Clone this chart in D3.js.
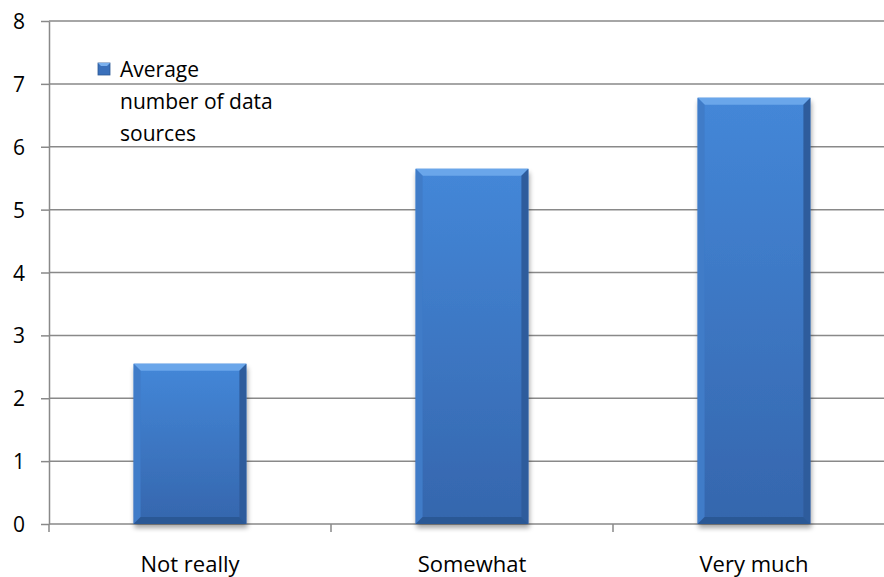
<!DOCTYPE html>
<html>
<head>
<meta charset="utf-8">
<script src="https://cdn.jsdelivr.net/npm/d3@7"></script>
<style>
  body { margin: 0; background: #fff; }
  text { font-family: "Open Sans", Lato, sans-serif; fill: #000; }
</style>
</head>
<body>
<svg width="884" height="577"></svg>
<script>
var categories = ["Not really", "Somewhat", "Very much"];
var values = [2.55, 5.65, 6.78];
var yTicks = [0, 1, 2, 3, 4, 5, 6, 7, 8];
var seriesName = ["Average", "number of data", "sources"];

var svg = d3.select("svg");
// plot edges (not called top/left etc, window.top clashes)
var plotL = 49, plotR = 895, plotT = 21, plotB = 524;

var x = d3.scaleBand().domain(categories).range([plotL, plotR]);
var y = d3.scaleLinear().domain([0, 8]).range([plotB, plotT]);

var defs = svg.append("defs");
var grad = defs.append("linearGradient").attr("id", "barGrad")
  .attr("x1", 0).attr("y1", 0).attr("x2", 0).attr("y2", 1);
grad.append("stop").attr("offset", "0%").attr("stop-color", "#4487d8");
grad.append("stop").attr("offset", "100%").attr("stop-color", "#3566ad");

var shadow = defs.append("filter").attr("id", "shadow")
  .attr("x", "-20%").attr("y", "-20%").attr("width", "140%").attr("height", "140%");
shadow.append("feGaussianBlur").attr("in", "SourceAlpha").attr("stdDeviation", 2.5);
shadow.append("feOffset").attr("dx", 1).attr("dy", 4).attr("result", "off");
shadow.append("feComponentTransfer").append("feFuncA").attr("type", "linear").attr("slope", 0.35);
var merge = shadow.append("feMerge");
merge.append("feMergeNode");
merge.append("feMergeNode").attr("in", "SourceGraphic");

// gridlines
svg.append("g")
  .selectAll("line")
  .data(yTicks.filter(function(d) { return d > 0; }))
  .enter().append("line")
  .attr("x1", plotL).attr("x2", 884)
  .attr("y1", function(d) { return y(d); })
  .attr("y2", function(d) { return y(d); })
  .attr("stroke", "#898989").attr("stroke-width", 1.5);

// y axis
var yAxis = svg.append("g")
  .attr("transform", "translate(" + plotL + ",0)")
  .call(d3.axisLeft(y).tickValues(yTicks).tickSize(8).tickPadding(16).tickSizeOuter(0));
yAxis.select(".domain").attr("stroke", "#898989").attr("stroke-width", 1.5);
yAxis.selectAll(".tick line").attr("stroke", "#898989").attr("stroke-width", 1.5);
yAxis.selectAll("text").style("font-size", "21px").attr("dy", "0.36em");

// x axis
var xAxis = svg.append("g")
  .attr("transform", "translate(0," + plotB + ")")
  .call(d3.axisBottom(x).tickSize(0).tickPadding(32));
xAxis.select(".domain").remove();
xAxis.selectAll("text").style("font-size", "22px");
svg.append("line")
  .attr("x1", plotL).attr("x2", 884).attr("y1", plotB).attr("y2", plotB)
  .attr("stroke", "#898989").attr("stroke-width", 1.5);
svg.append("g").selectAll("line")
  .data(categories)
  .enter().append("line")
  .attr("x1", function(d) { return x(d); })
  .attr("x2", function(d) { return x(d); })
  .attr("y1", plotB).attr("y2", plotB + 8)
  .attr("stroke", "#898989").attr("stroke-width", 1.5);

// bars with bevel
var bw = x.bandwidth() * 0.4;
var bev = 7;
var bars = svg.append("g").selectAll("g")
  .data(values)
  .enter().append("g")
  .attr("filter", "url(#shadow)");

function bx(d, i) { return x(categories[i]) + (x.bandwidth() - bw) / 2; }

bars.append("rect")
  .attr("x", bx)
  .attr("y", function(d) { return y(d); })
  .attr("width", bw)
  .attr("height", function(d) { return y(0) - y(d); })
  .attr("fill", "url(#barGrad)");

function bevel(side, color) {
  bars.append("polygon")
    .attr("points", function(d, i) {
      var x0 = bx(d, i), x1 = x0 + bw, y0 = y(d), y1 = y(0);
      var p;
      if (side === "top") p = [[x0, y0], [x1, y0], [x1 - bev, y0 + bev], [x0 + bev, y0 + bev]];
      if (side === "left") p = [[x0, y0], [x0 + bev, y0 + bev], [x0 + bev, y1 - bev], [x0, y1]];
      if (side === "right") p = [[x1, y0], [x1 - bev, y0 + bev], [x1 - bev, y1 - bev], [x1, y1]];
      if (side === "bottom") p = [[x0, y1], [x0 + bev, y1 - bev], [x1 - bev, y1 - bev], [x1, y1]];
      return p.map(function(q) { return q.join(","); }).join(" ");
    })
    .attr("fill", color);
}
bevel("top", "#6aa6ea");
bevel("left", "#3f7bc8");
bevel("right", "#2d5c9c");
bevel("bottom", "#2c5895");

// legend
var lg = svg.append("g");
lg.append("rect").attr("x", 98).attr("y", 63).attr("width", 12).attr("height", 12)
  .attr("fill", "#3a70bb").attr("stroke", "#2c5895").attr("stroke-width", 0.8);
lg.append("polygon").attr("points", "98,63 110,63 107,66 101,66").attr("fill", "#7ab0ee");
lg.selectAll("text")
  .data(seriesName)
  .enter().append("text")
  .attr("x", 120)
  .attr("y", function(d, i) { return 77 + i * 32; })
  .style("font-size", "21px")
  .text(function(d) { return d; });
</script>
</body>
</html>
